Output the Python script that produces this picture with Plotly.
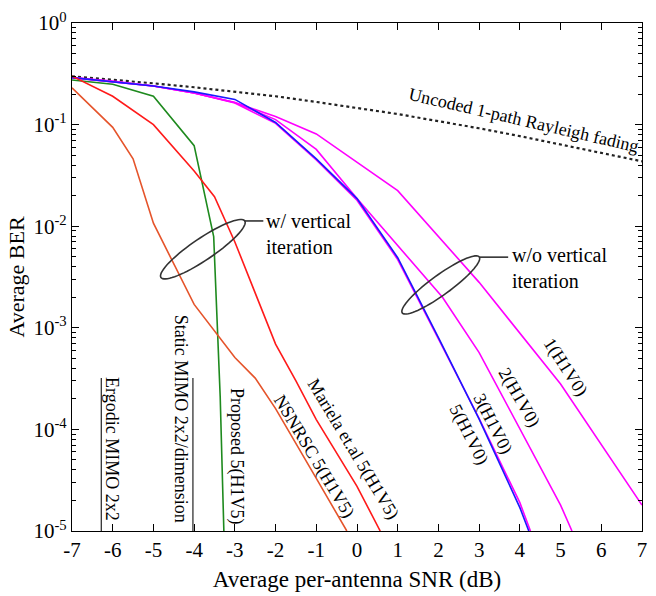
import numpy as np
import plotly.graph_objects as go

# ---------------- data ----------------
snr_unc = [-7, -6, -5, -4, -3, -2, -1, 0, 1, 2, 3, 4, 5, 6, 7]
ber_unc = [0.298, 0.277, 0.255, 0.233, 0.211, 0.19, 0.167, 0.146, 0.127,
           0.108, 0.092, 0.077, 0.064, 0.053, 0.0435]

snr_h1v0_1 = [-7, -6, -5, -4, -3, -2, -1, 1, 3, 5, 7]
ber_h1v0_1 = [0.29, 0.268, 0.24, 0.205, 0.165, 0.12, 0.081, 0.0224, 2.8e-3, 2.8e-4, 1.8e-5]

snr_h1v0_2 = [-7, -6, -5, -4, -3, -2, -1, 0, 2.1, 3, 5, 5.28]
ber_h1v0_2 = [0.29, 0.265, 0.24, 0.205, 0.165, 0.112, 0.057, 0.0187, 2.0e-3, 5.7e-4, 1.8e-5, 1e-5]

snr_h1v0_3 = [-7, -6, -5, -4, -3, -2, -1, 0, 1, 2, 3, 4, 4.26]
ber_h1v0_3 = [0.29, 0.265, 0.24, 0.205, 0.163, 0.103, 0.045, 0.018, 4.7e-3, 7.8e-4, 1.28e-4, 1.9e-5, 1e-5]

snr_h1v0_5 = [-7, -6, -5, -4, -3, -2, -1, 0, 1, 2, 3, 4, 4.22]
ber_h1v0_5 = [0.29, 0.265, 0.24, 0.21, 0.177, 0.105, 0.046, 0.0187, 4.9e-3, 8.0e-4, 1.26e-4, 1.7e-5, 1e-5]

snr_prop = [-7, -6, -5, -4, -3.52, -3.36, -3.27]
ber_prop = [0.275, 0.25, 0.19, 0.062, 7.9e-3, 2.1e-4, 1e-5]

snr_mariela = [-7, -6, -5, -4, -3.5, -3, -2, -1.5, -1, 0, 0.57]
ber_mariela = [0.30, 0.19, 0.10, 0.035, 0.0195, 7e-3, 6.9e-4, 3.0e-4, 1.25e-4, 2.75e-5, 1e-5]

snr_nsnrsc = [-7, -6, -5.5, -5, -4, -3, -2.5, -2, -1, -0.25]
ber_nsnrsc = [0.23, 0.094, 0.046, 0.0107, 1.7e-3, 5.1e-4, 3.2e-4, 1.6e-4, 3.3e-5, 1e-5]

limit_names = ["Ergodic MIMO 2x2", "Static MIMO 2x2/dimension"]
limit_snr = [-6.28, -4.03]
limit_top = 3.2e-4
limit_bottom = 1e-5

x_ticks = [-7, -6, -5, -4, -3, -2, -1, 0, 1, 2, 3, 4, 5, 6, 7]
x_ticktext = ["-7", "-6", "-5", "-4", "-3", "-2", "-1", "0", "1", "2", "3", "4", "5", "6", "7"]
y_ticks = [1e-5, 1e-4, 1e-3, 1e-2, 1e-1, 1]
y_ticktext = ["10<sup>-5</sup>", "10<sup>-4</sup>", "10<sup>-3</sup>",
              "10<sup>-2</sup>", "10<sup>-1</sup>", "10<sup>0</sup>"]
y_minor = [m * 10.0 ** e for e in range(-5, 0) for m in range(2, 10)]

# ---------------- figure ----------------
W, H = 656, 596
ML, MR, MT, MB = 72, 9, 23, 61
PW, PH = W - ML - MR, H - MT - MB
FONT = "Liberation Serif"


def P(px, py):
    return (px - ML) / PW, (H - MB - py) / PH


fig = go.Figure()

fig.add_trace(go.Scatter(x=snr_unc, y=ber_unc, mode="lines",
                         line=dict(color="#222222", width=2.2, dash="dot")))

for sx, sy, col in [(snr_h1v0_1, ber_h1v0_1, "#ff00ff"),
                    (snr_h1v0_2, ber_h1v0_2, "#ff00ff"),
                    (snr_h1v0_3, ber_h1v0_3, "#ff00ff"),
                    (snr_h1v0_5, ber_h1v0_5, "#1a1aff"),
                    (snr_prop, ber_prop, "#1e8a1e"),
                    (snr_mariela, ber_mariela, "#ff1a1a"),
                    (snr_nsnrsc, ber_nsnrsc, "#e5542b")]:
    fig.add_trace(go.Scatter(x=sx, y=sy, mode="lines", line=dict(color=col, width=1.6)))

for lx in limit_snr:
    fig.add_trace(go.Scatter(x=[lx, lx], y=[limit_top, limit_bottom], mode="lines",
                             line=dict(color="#333333", width=1.3)))

shapes = []


def ellipse(cx, cy, a, b, deg):
    th = np.deg2rad(deg)
    t = np.linspace(0, 2 * np.pi, 73)
    xs = cx + a * np.cos(t) * np.cos(th) - b * np.sin(t) * np.sin(th)
    ys = cy + a * np.cos(t) * np.sin(th) + b * np.sin(t) * np.cos(th)
    pts = [P(x, y) for x, y in zip(xs, ys)]
    path = "M " + " L ".join(f"{u:.5f},{v:.5f}" for u, v in pts) + " Z"
    return dict(type="path", path=path, xref="paper", yref="paper",
                line=dict(color="#333333", width=1.6))


def seg(p0, p1):
    x0, y0 = P(*p0)
    x1, y1 = P(*p1)
    return dict(type="line", x0=x0, y0=y0, x1=x1, y1=y1, xref="paper", yref="paper",
                line=dict(color="#333333", width=1.6))


shapes.append(ellipse(204, 251, 51, 11, -34))
shapes.append(seg((246, 222.5), (265, 222.5)))
shapes.append(ellipse(444, 287, 48, 10, -36))
shapes.append(seg((483, 259), (512, 259)))

annots = []


def txt(text, px, py, size=18, angle=0, xanchor="center", align="center"):
    x, y = P(px, py)
    annots.append(dict(text=text, x=x, y=y, xref="paper", yref="paper",
                       showarrow=False, textangle=angle, xanchor=xanchor,
                       yanchor="middle", align=align,
                       font=dict(family=FONT, size=size, color="black")))


txt("Uncoded 1-path Rayleigh fading", 527, 121, size=18, angle=13)
txt("w/ vertical<br>iteration", 266, 236, size=20, xanchor="left", align="left")
txt("w/o vertical<br>iteration", 514, 270, size=20, xanchor="left", align="left")
txt(limit_names[0], 113, 452, size=18, angle=90)
txt(limit_names[1], 182, 422, size=18, angle=90)
txt("Proposed 5(H1V5)", 238, 460, size=18, angle=90)
txt("NSNRSC 5(H1V5)", 316, 460, size=18, angle=59)
txt("Mariela et.al 5(H1V5)", 355, 452, size=18, angle=59)
txt("1(H1V0)", 570, 370, size=18, angle=57)
txt("2(H1V0)", 523, 400, size=18, angle=60)
txt("3(H1V0)", 496, 427, size=18, angle=63)
txt("5(H1V0)", 472, 438, size=18, angle=63)

fig.update_layout(
    width=W, height=H,
    margin=dict(l=ML, r=MR, t=MT, b=MB),
    paper_bgcolor="white", plot_bgcolor="white",
    showlegend=False,
    shapes=shapes, annotations=annots,
    font=dict(family=FONT, size=20, color="black"),
)
fig.update_xaxes(
    range=[-7, 7], tickmode="array", tickvals=x_ticks, ticktext=x_ticktext,
    ticks="inside", ticklen=7, tickcolor="black", showgrid=False, zeroline=False,
    showline=True, linecolor="black", linewidth=1.2, mirror="allticks",
    tickfont=dict(family=FONT, size=21),
    title=dict(text="Average per-antenna SNR (dB)", font=dict(family=FONT, size=23), standoff=9),
)
fig.update_yaxes(
    type="log", range=[-5, 0], tickmode="array", tickvals=y_ticks, ticktext=y_ticktext,
    ticks="inside", ticklen=7, tickcolor="black", showgrid=False, zeroline=False,
    showline=True, linecolor="black", linewidth=1.2, mirror="allticks",
    tickfont=dict(family=FONT, size=21),
    minor=dict(tickmode="array", tickvals=y_minor, ticks="inside", ticklen=4,
               tickcolor="black", showgrid=False),
    title=dict(text="Average BER", font=dict(family=FONT, size=22), standoff=2),
)

fig.write_html("out.html")
